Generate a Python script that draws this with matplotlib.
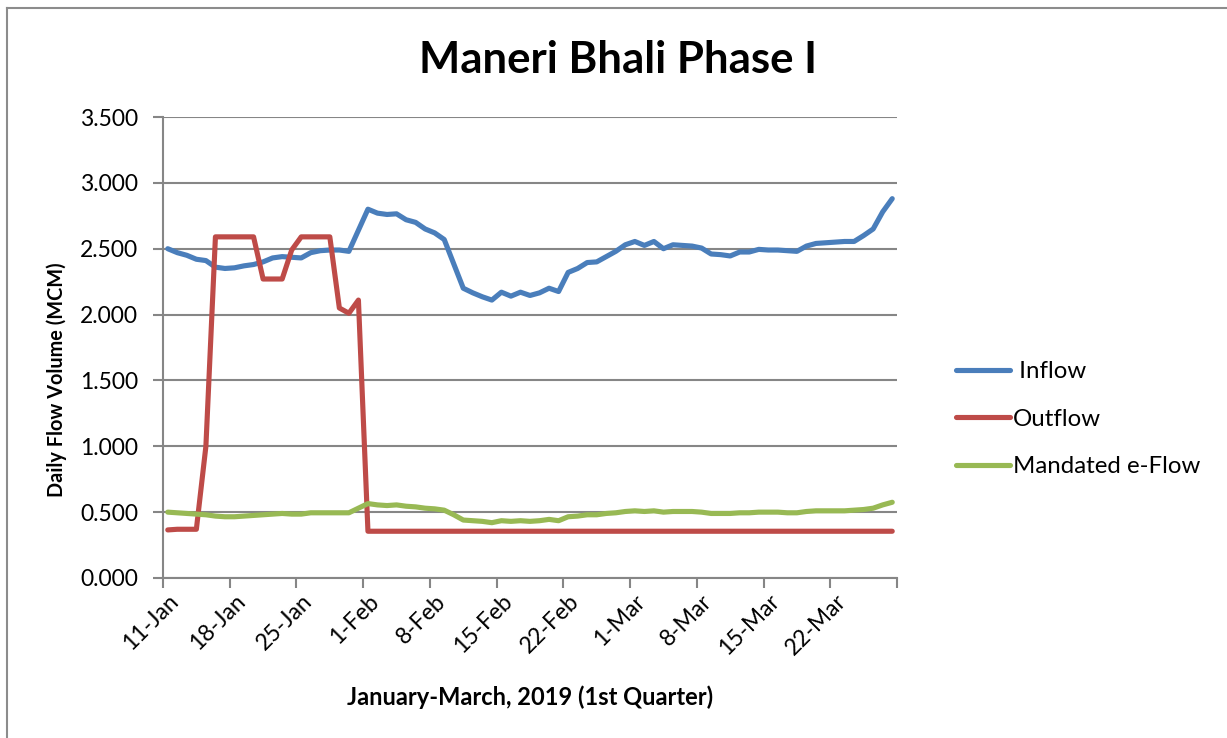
import matplotlib
matplotlib.use("Agg")
import matplotlib.pyplot as plt
import numpy as np
import pandas as pd

# daily values, 11-Jan to 28-Mar 2019 (MCM)
inflow = [
    2.50, 2.47, 2.45, 2.42, 2.41, 2.36, 2.35, 2.355, 2.37, 2.38,
    2.40, 2.43, 2.44, 2.435, 2.43, 2.47, 2.485, 2.49, 2.49, 2.48,
    2.64, 2.80, 2.77, 2.76, 2.765, 2.72, 2.70, 2.65, 2.62, 2.57,
    2.385, 2.20, 2.165, 2.135, 2.11, 2.17, 2.14, 2.17, 2.145, 2.165,
    2.20, 2.175, 2.32, 2.35, 2.395, 2.40, 2.44, 2.48, 2.53, 2.555,
    2.525, 2.555, 2.50, 2.53, 2.525, 2.52, 2.505, 2.46, 2.455, 2.445,
    2.475, 2.475, 2.495, 2.49, 2.49, 2.485, 2.48, 2.52, 2.54, 2.545,
    2.55, 2.555, 2.555, 2.60, 2.65, 2.78, 2.88,
]
outflow = [
    0.365, 0.37, 0.37, 0.37, 1.00, 2.59, 2.59, 2.59, 2.59, 2.59,
    2.27, 2.27, 2.27, 2.49, 2.59, 2.59, 2.59, 2.59, 2.05, 2.01,
    2.11,
] + [0.355] * 56
eflow = [
    0.50, 0.495, 0.49, 0.485, 0.48, 0.47, 0.465, 0.465, 0.47, 0.475,
    0.48, 0.485, 0.49, 0.485, 0.485, 0.495, 0.495, 0.495, 0.495, 0.495,
    0.53, 0.565, 0.555, 0.55, 0.555, 0.545, 0.54, 0.53, 0.525, 0.515,
    0.48, 0.44, 0.435, 0.43, 0.42, 0.435, 0.43, 0.435, 0.43, 0.435,
    0.445, 0.435, 0.465, 0.47, 0.48, 0.48, 0.49, 0.495, 0.505, 0.51,
    0.505, 0.51, 0.50, 0.505, 0.505, 0.505, 0.50, 0.49, 0.49, 0.49,
    0.495, 0.495, 0.50, 0.50, 0.50, 0.495, 0.495, 0.505, 0.51, 0.51,
    0.51, 0.51, 0.515, 0.52, 0.53, 0.555, 0.575,
]
start_date = "2019-01-11"
series_names = [" Inflow", "Outflow", "Mandated e-Flow"]
series_colors = ["#4A7EBB", "#BE4B48", "#98B954"]

plt.rcParams['font.family'] = ['Lato', 'DejaVu Sans']

dates = pd.date_range(start_date, periods=len(inflow), freq="D")
x = np.arange(len(inflow))

fig = plt.figure(figsize=(12.27, 7.38), dpi=100)
ax = fig.add_axes([163 / 1227, 1 - 578 / 738, (897 - 163) / 1227, (578 - 117) / 738])

grid_col = "#868686"
for s, name, col in zip([inflow, outflow, eflow], series_names, series_colors):
    ax.plot(x, s, color=col, lw=3.7, label=name, solid_capstyle="round",
            solid_joinstyle="round", zorder=3)

ax.set_xlim(-0.5, len(x) - 0.5)
ax.set_ylim(0, 3.5)
ax.set_yticks(np.arange(0, 3.51, 0.5))
ax.set_yticklabels(["%.3f" % v for v in np.arange(0, 3.51, 0.5)], fontsize=16.5)
ax.yaxis.grid(True, color=grid_col, lw=1.5)
ax.set_axisbelow(True)

# tick marks on category boundaries, labels on categories
bounds = np.arange(-0.5, len(x), 7)
ax.set_xticks(bounds)
ax.set_xticklabels([])
lab_idx = np.arange(0, len(x) - 1, 7)
ax.set_xticks(lab_idx, minor=True)
ax.set_xticklabels(["%d-%s" % (dates[i].day, dates[i].strftime("%b")) for i in lab_idx],
                   minor=True, rotation=45, ha="right", va="top",
                   rotation_mode="anchor", fontsize=16.5)
ax.tick_params(axis="x", which="minor", length=0, pad=9)
ax.tick_params(axis="both", which="major", length=7, width=1.5, color=grid_col)
ax.tick_params(axis="y", pad=11)

for side in ["top", "right"]:
    ax.spines[side].set_visible(False)
for side in ["left", "bottom"]:
    ax.spines[side].set_color(grid_col)
    ax.spines[side].set_linewidth(1.5)

fig.text(618 / 1227, 1 - 60 / 738, "Maneri Bhali Phase I", ha="center", va="center",
         fontsize=31.5, fontweight="bold")
fig.text(57 / 1227, 1 - 380 / 738, "Daily Flow Volume (MCM)", ha="center", va="center",
         rotation=90, fontsize=14.3, fontweight="bold")
fig.text(530 / 1227, 1 - 697 / 738, "January-March, 2019 (1st Quarter)", ha="center",
         va="center", fontsize=17, fontweight="bold")

fig.legend(loc="center left", bbox_to_anchor=(934 / 1227, 1 - 419 / 738), frameon=False,
           fontsize=17.3, handlelength=2.25, handletextpad=0.15, labelspacing=1.1)

# outer chart border
fig.add_artist(plt.Line2D([7 / 1227, 1], [1 - 8 / 738, 1 - 8 / 738], color="#8c8c8c", lw=1.5))
fig.add_artist(plt.Line2D([7 / 1227, 7 / 1227], [0, 1 - 8 / 738], color="#8c8c8c", lw=1.5))

fig.savefig("out.png", dpi=100)
